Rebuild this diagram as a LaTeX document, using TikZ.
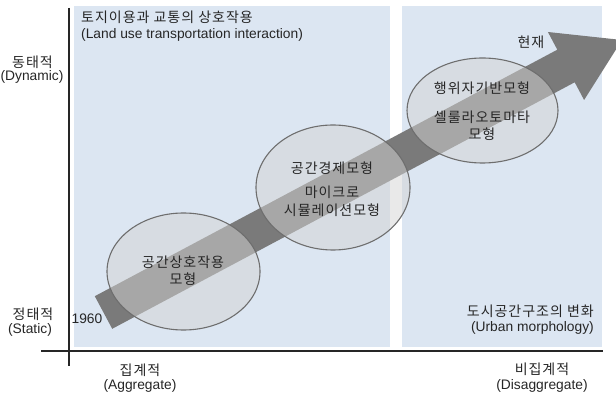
\documentclass[tikz,border=0pt]{standalone}
\usepackage{fontspec}
\setmainfont{Liberation Sans}
\newfontfamily\kr[LetterSpace=7]{Noto Sans CJK KR}
\newfontfamily\lat{Liberation Sans}
\definecolor{panelblue}{HTML}{DCE6F2}
\definecolor{arrowgray}{HTML}{7A7A7A}
\definecolor{circlefill}{HTML}{D4D4D4}
\definecolor{circleline}{HTML}{6E6E6E}
\tikzset{
  panel/.style={fill=panelblue, draw=none},
  axisline/.style={line width=1.4pt, draw=black!85},
  modelcircle/.style={ellipse, draw=circleline, line width=1.1pt, fill=circlefill, fill opacity=0.5, text opacity=1, inner sep=0pt},
  krtext/.style={font=\kr\fontsize{14}{16}\selectfont, inner sep=0pt, text=black!85},
  lattext/.style={font=\lat\fontsize{13.8}{16}\selectfont, inner sep=0pt, text=black!85},
}
\usetikzlibrary{shapes.geometric}
\begin{document}
\begin{tikzpicture}[x=1pt,y=-1pt]
\useasboundingbox (0,0) rectangle (616,395);
\clip (0,0) rectangle (616,395);
\fill[white] (0,0) rectangle (616,395);
% panels
\fill[panel] (74,6) rectangle (390,347);
\fill[panel] (402,6) rectangle (602,347);
% axes
\coordinate (ytop) at (69,8);
\coordinate (ybot) at (69,366);
\coordinate (xleft) at (41,351);
\coordinate (xright) at (603,351);
\draw[axisline] (ytop) -- (ybot);
\draw[axisline] (xleft) -- (xright);
% big arrow
\fill[arrowgray] (94.8,296.2) -- (557.3,49.7) -- (547.9,32.0) -- (622,40) -- (584.1,100) -- (574.7,82.3) -- (112.2,328.8) -- cycle;
% circles
\node[modelcircle, minimum width=153pt, minimum height=117pt] (c1) at (183.5,271.5) {};
\node[modelcircle, minimum width=154pt, minimum height=125pt] (c2) at (333,187.5) {};
\node[modelcircle, minimum width=151pt, minimum height=105pt] (c3) at (482.5,110.5) {};
% circle texts
\node[krtext] (t1a) at (183,262) {공간상호작용};
\node[krtext] (t1b) at (183,279) {모형};
\node[krtext] (t2a) at (332,168) {공간경제모형};
\node[krtext] (t2b) at (332,192) {마이크로};
\node[krtext] (t2c) at (332,210) {시뮬레이션모형};
\node[krtext] (t3a) at (482,88) {행위자기반모형};
\node[krtext] (t3b) at (482,117) {셀룰라오토마타};
\node[krtext] (t3c) at (482,134) {모형};
% panel titles
\node[krtext, anchor=west] (p1a) at (81,17) {토지이용과 교통의 상호작용};
\node[lattext, anchor=west] (p1b) at (81,35) {(Land use transportation interaction)};
\node[krtext, anchor=east] (p2a) at (594,311) {도시공간구조의 변화};
\node[lattext, anchor=east] (p2b) at (594,328) {(Urban morphology)};
% arrow labels
\node[krtext] (now) at (531,42) {현재};
\node[lattext] (y1960) at (87,319) {1960};
% axis labels
\node[krtext] (dyn1) at (32.5,62) {동태적};
\node[lattext] (dyn2) at (32,77) {(Dynamic)};
\node[krtext] (sta1) at (33,314) {정태적};
\node[lattext] (sta2) at (30,330) {(Static)};
\node[krtext] (agg1) at (140,370) {집계적};
\node[lattext] (agg2) at (140,386) {(Aggregate)};
\node[krtext] (dis1) at (542,369) {비집계적};
\node[lattext] (dis2) at (542,386) {(Disaggregate)};
\end{tikzpicture}
\end{document}
